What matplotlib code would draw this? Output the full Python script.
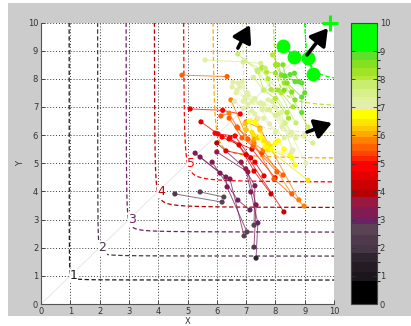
import matplotlib
matplotlib.use("Agg")
import matplotlib.pyplot as plt
import numpy as np
from matplotlib.colors import ListedColormap, BoundaryNorm
from matplotlib.cm import ScalarMappable
from matplotlib.patches import Rectangle

# colour bands of the colour scale (value edges and colours)
band_edges = [0, 0.83, 1.15, 1.5, 1.83, 2.1, 2.45, 2.85, 3.1, 3.45, 3.8, 4.05, 4.4, 4.75,
              5.1, 5.27, 5.45, 5.7, 5.95, 6.15, 6.35, 6.6, 6.9, 7.07, 7.37, 7.66, 7.96,
              8.13, 8.4, 8.67, 8.97, 10]
band_colors = ["#000000", "#1c161c", "#241c24", "#2e2430", "#463646", "#4e3a4c", "#5a4454",
               "#6c2262", "#801c52", "#981842", "#b40004", "#cc0000", "#e40000", "#ff0000",
               "#ff2400", "#ff4400", "#ff6000", "#ff8000", "#ffa800", "#ffc800", "#ffe400",
               "#ffff00", "#e8e8b8", "#e2f0a4", "#d8f08c", "#c8ee70", "#b4e834", "#a0e428",
               "#84e020", "#60e02c", "#00ff00"]

# iso-lines: level, vertical asymptote, horizontal asymptote, corner rounding
levels = [1, 2, 3, 4, 5, 6, 7, 8, 9]
level_x0 = [0.96, 1.93, 2.9, 3.86, 4.85, 5.84, 6.82, 7.85, 8.9]
level_y0 = [0.85, 1.7, 2.55, 3.42, 4.32, 5.15, 6.02, 6.95, 7.85]
level_round = [0.10, 0.14, 0.2, 0.26, 0.32, 0.4, 0.45, 0.5, 0.45]
label_levels = [1, 2, 3, 4, 5]
label_x = [1.12, 2.1, 3.1, 4.1, 5.12]
label_y = [1.0, 2.0, 3.0, 4.0, 5.0]

# trajectories (x, y, value per point)
traj_x = [
    [5.26, 6.11, 6.45, 6.93], [5.43, 6.31, 6.35, 7.03], [4.57, 6.18], [5.43, 6.24],
    [6.0, 6.99, 7.16, 7.40, 7.34], [6.0, 7.06, 7.34, 7.27], [5.84, 6.72, 7.13], [6.83, 7.3, 7.27],
    [5.09, 6.2, 6.8], [5.46, 6.04, 6.62, 7.16], [5.94, 6.45, 7.3, 7.61], [6.18, 6.76, 7.27, 7.85],
    [6.31, 7.0, 8.29], [6.42, 7.2, 7.99],
    [4.81, 6.35], [6.14, 6.42, 6.69, 7.24, 8.05], [6.42, 6.86, 7.54, 8.26], [6.48, 7.06, 7.58, 8.56],
    [7.0, 7.47, 8.8], [6.72, 7.27, 7.95, 8.98],
    [6.96, 7.37, 7.65, 9.11], [7.1, 7.24, 7.71, 8.5], [7.3, 7.47, 7.75, 8.56, 8.67], [7.27, 7.4, 7.82, 7.99],
    [7.6, 7.7, 7.85, 8.1, 8.3], [7.0, 7.2, 7.5, 7.75],
    [5.6, 6.9, 7.5], [6.55, 6.72, 7.06, 7.7, 8.33, 9.04], [6.52, 6.69, 6.96, 7.5, 7.99, 8.6],
    [6.79, 6.66, 7.2, 7.8, 8.22, 8.7], [6.86, 7.06, 7.6, 8.0, 8.5, 9.0], [7.9, 8.1, 8.33, 8.56, 9.28],
    [7.75, 8.2, 8.56], [6.9, 7.2, 7.4, 7.6, 8.0], [7.05, 7.3, 7.55, 7.8, 8.3], [6.6, 6.9, 7.3],
    [6.72, 7.37, 7.9, 8.4], [6.96, 7.5, 7.75, 8.1, 8.7], [7.55, 7.7, 8.0, 8.3, 9.11],
    [7.9, 8.09, 8.22, 8.56, 8.67], [8.0, 8.2, 8.4, 8.9, 8.9], [8.26, 8.33, 8.67, 8.9, 9.0],
    [7.4, 7.6, 8.0, 8.45], [7.65, 7.85, 8.2, 8.6], [7.25, 7.6, 8.3], [8.5, 8.65, 8.8],
]
traj_y = [
    [5.36, 4.65, 4.44, 2.42], [5.22, 4.51, 4.16, 2.56], [3.91, 3.62], [3.98, 3.80],
    [5.72, 4.80, 3.98, 2.88, 1.63], [5.40, 4.69, 3.52, 2.02], [5.04, 3.69, 3.34], [5.04, 4.2, 2.8],
    [6.93, 6.88, 6.75], [6.47, 6.04, 5.97, 5.19], [6.07, 5.9, 5.04, 4.55], [5.93, 5.65, 4.72, 3.91],
    [5.44, 5.3, 3.27], [5.86, 5.5, 4.48],
    [8.13, 8.08], [6.68, 6.78, 6.29, 5.61, 4.69], [6.6, 5.9, 5.36, 4.58], [7.25, 5.86, 5.47, 3.91],
    [6.47, 6.25, 3.7], [6.25, 5.72, 4.44, 3.48],
    [6.4, 6.57, 5.58, 4.4], [6.5, 6.0, 5.54, 5.3], [6.45, 6.18, 5.47, 5.19, 4.94], [5.86, 5.9, 5.61, 5.72],
    [5.8, 5.65, 5.5, 5.8, 5.5], [6.2, 6.1, 5.95, 5.7],
    [8.67, 8.6, 8.55], [7.88, 7.85, 7.42, 6.9, 6.43, 5.0], [7.71, 7.6, 7.35, 7.15, 7.0, 5.47],
    [7.71, 7.5, 7.2, 6.9, 6.29, 5.9], [7.88, 7.1, 7.1, 6.7, 6.0, 6.0], [7.2, 6.75, 6.43, 6.1, 5.72],
    [7.25, 6.8, 5.4], [7.2, 6.85, 6.6, 6.6, 6.1], [7.5, 7.3, 6.9, 6.4, 5.9], [7.2, 6.95, 6.75],
    [8.88, 8.3, 7.6, 6.8], [8.63, 8.35, 8.0, 7.6, 6.43], [8.4, 8.24, 8.2, 7.85, 6.29],
    [8.85, 8.5, 8.13, 7.53, 7.25], [8.5, 8.13, 7.85, 7.35, 6.8], [8.5, 8.1, 7.9, 7.85, 7.5],
    [8.25, 7.6, 7.3, 6.6], [8.38, 7.62, 7.5, 7.0], [8.05, 7.6, 7.6], [8.15, 8.2, 7.9],
]
traj_v = [
    [3.3, 3.3, 3.2, 2.6], [3.4, 3.2, 3.1, 2.7], [2.4, 2.7], [2.5, 2.7],
    [3.8, 3.6, 3.3, 2.9, 1.5], [3.7, 3.6, 3.4, 2.2], [3.4, 3.0, 2.9], [3.6, 3.4, 2.8],
    [4.7, 4.8, 4.9], [4.6, 4.8, 4.9, 4.6], [4.9, 4.8, 4.7, 4.5], [4.8, 4.7, 4.4, 4.3],
    [4.6, 4.5, 4.3], [4.9, 4.6, 4.9],
    [5.5, 5.6], [5.6, 5.7, 5.6, 5.6, 5.5], [5.5, 5.5, 5.4, 5.6], [5.7, 5.6, 5.9, 5.6],
    [5.9, 6.0, 5.9], [5.5, 5.8, 5.6, 5.7],
    [6.3, 6.5, 6.6, 6.5], [6.7, 6.4, 6.6, 6.7], [6.6, 6.3, 6.4, 6.7, 6.8], [6.1, 6.3, 6.5, 6.6],
    [6.5, 6.7, 6.6, 6.8, 6.6], [6.2, 6.4, 6.6, 6.4],
    [7.3, 7.4, 7.5], [7.2, 7.1, 7.2, 7.3, 7.4, 7.0], [7.1, 7.0, 7.1, 7.3, 7.2, 7.0],
    [7.2, 7.1, 7.3, 7.4, 7.3, 7.1], [7.3, 7.2, 7.1, 7.4, 7.1, 7.2], [7.5, 7.4, 7.5, 7.3, 7.6],
    [7.2, 7.3, 7.0], [7.1, 7.2, 7.0, 7.1, 7.2], [7.3, 7.2, 7.1, 7.0, 7.2], [7.0, 6.95, 7.1],
    [7.9, 7.8, 7.9, 8.1], [7.6, 7.9, 8.0, 8.2, 7.9], [8.0, 8.1, 8.2, 8.3, 7.8],
    [8.1, 8.2, 8.4, 8.5, 8.6], [8.3, 8.4, 8.6, 8.7, 8.7], [8.6, 8.7, 8.8, 8.8, 8.9],
    [7.9, 7.8, 8.0, 8.2], [7.8, 8.0, 8.1, 8.3], [7.6, 7.7, 8.4], [8.8, 8.9, 8.9],
]

# large markers of the best points and the ideal point
big_x = [8.26, 8.63, 9.1, 9.3]
big_y = [9.17, 8.78, 8.74, 8.17]
big_v = 9.5
ideal_x, ideal_y = 9.87, 10.0

# arrows (tail -> head)
arrow_tail_x = [6.72, 9.08, 9.08]
arrow_tail_y = [9.09, 8.85, 6.11]
arrow_head_x = [7.13, 9.79, 9.93]
arrow_head_y = [9.91, 9.8, 6.43]

cmap = ListedColormap(band_colors)
norm = BoundaryNorm(band_edges, cmap.N)

W, H = 411, 326
fig = plt.figure(figsize=(W / 100, H / 100), dpi=100, facecolor="white")
fig.patches.append(Rectangle((8 / W, (H - 316) / H), 1, (316 - 3) / H,
                             transform=fig.transFigure, facecolor="#cccccc",
                             edgecolor="none", zorder=-10))

ax = fig.add_axes([41 / W, (H - 304) / H, 293 / W, 281.5 / H])
ax.set_facecolor("white")
ax.set_xlim(0, 10)
ax.set_ylim(0, 10)

# diagonal
ax.plot([0, 10], [0, 10], color="#e4e4e4", lw=0.6, zorder=1)

# iso-lines
for k, a, b, c in zip(levels, level_x0, level_y0, level_round):
    xs = a + np.geomspace(c * c / (10 - b), 10 - a, 200)
    ys = b + c * c / (xs - a)
    ax.plot(xs, ys, color=cmap(norm(k)), lw=0.9, ls=(0, (3.5, 2)), zorder=2)

for k, lx, ly in zip(label_levels, label_x, label_y):
    ax.text(lx, ly, str(k), color=cmap(norm(k)), fontsize=9, ha="center", va="center",
            bbox=dict(facecolor="white", edgecolor="none", pad=0.3), zorder=3)

# trajectories
for xs, ys, vs in zip(traj_x, traj_y, traj_v):
    line_col = cmap(norm(np.mean(vs)))
    ax.plot(xs, ys, color=line_col, lw=0.7, alpha=0.75, zorder=4)
    ax.scatter(xs, ys, c=[cmap(norm(v)) for v in vs], s=14, linewidths=0, zorder=5)

ax.plot(big_x, big_y, color=cmap(norm(big_v)), lw=0.8, zorder=5)
ax.scatter(big_x, big_y, color=cmap(norm(big_v)), s=100, linewidths=0, zorder=6)
ax.plot([ideal_x], [ideal_y], marker="+", color="#00ff00", ms=12, mew=2.2,
        clip_on=False, zorder=7)

for tx, ty, hx, hy in zip(arrow_tail_x, arrow_tail_y, arrow_head_x, arrow_head_y):
    ax.annotate("", xy=(hx, hy), xytext=(tx, ty),
                arrowprops=dict(arrowstyle="-|>,head_length=1.0,head_width=0.6",
                                color="black", lw=2.6, shrinkA=0, shrinkB=0),
                zorder=8)

ticks = np.arange(0, 11)
ax.set_xticks(ticks)
ax.set_yticks(ticks)
ax.grid(True, color="#3a3a3a", ls=(0, (1, 2)), lw=0.7)
ax.set_axisbelow(True)
ax.tick_params(direction="in", length=3, width=0.6, labelsize=6, colors="#333333", pad=2)
for side in ["top", "right"]:
    ax.spines[side].set_visible(False)
for side in ["left", "bottom"]:
    ax.spines[side].set_color("#555555")
    ax.spines[side].set_linewidth(0.8)
ax.set_xlabel("X", fontsize=6, color="#333333", labelpad=1)
ax.set_ylabel("Y", fontsize=6, color="#333333", labelpad=2)

# colour bar
cax = fig.add_axes([351 / W, (H - 304) / H, 26 / W, 281 / H])
sm = ScalarMappable(norm=norm, cmap=cmap)
cb = fig.colorbar(sm, cax=cax, spacing="proportional", ticks=ticks)
cb.outline.set_edgecolor("#444444")
cb.outline.set_linewidth(0.8)
cax.tick_params(direction="in", length=3, width=0.6, labelsize=6, colors="#333333",
                left=True, right=True, pad=2)

fig.savefig("out.png", dpi=100, facecolor="white")
